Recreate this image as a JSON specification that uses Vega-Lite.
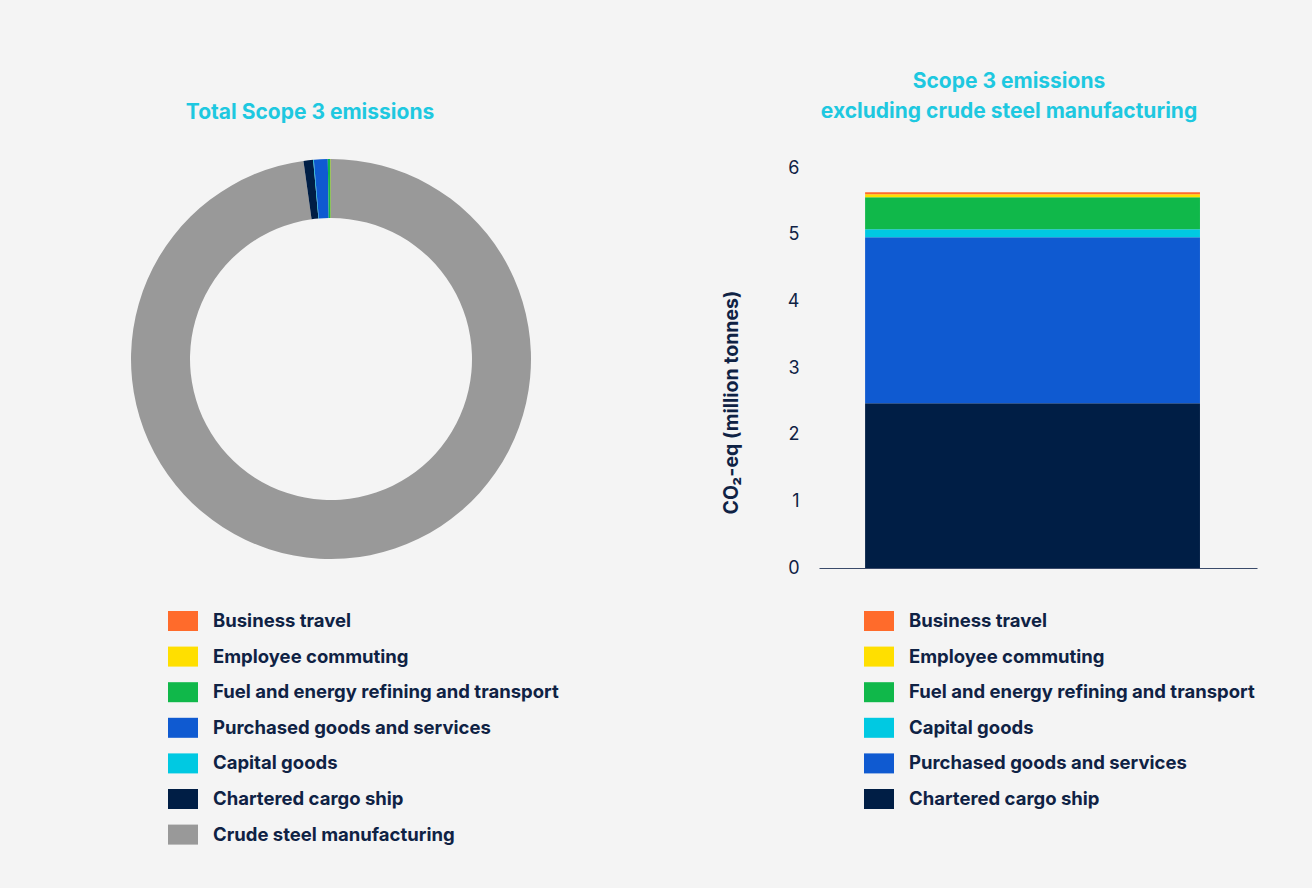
{
  "$schema": "https://vega.github.io/schema/vega-lite/v6.json",
  "background": "#f4f4f4",
  "padding": {"left": 0, "top": 71, "right": 55, "bottom": 69},
  "config": {
    "font": "Inter",
    "view": {"stroke": null},
    "legend": {
      "labelFont": "Inter",
      "labelFontSize": 18.5,
      "labelFontWeight": "bold",
      "labelColor": "#0f2244",
      "labelLimit": 0,
      "labelOffset": 15,
      "symbolType": "M-1,-0.667H1V0.667H-1Z",
      "symbolSize": 900,
      "symbolStrokeWidth": 0,
      "symbolOpacity": 1,
      "rowPadding": 9.6,
      "title": null
    }
  },
  "datasets": {
    "donut": [
      {"category": "Crude steel manufacturing", "value": 219, "rank": 1},
      {"category": "Chartered cargo ship", "value": 1.74, "rank": 2},
      {"category": "Capital goods", "value": 0.12, "rank": 3},
      {"category": "Purchased goods and services", "value": 2.49, "rank": 4},
      {"category": "Fuel and energy refining and transport", "value": 0.5, "rank": 5},
      {"category": "Employee commuting", "value": 0.045, "rank": 6},
      {"category": "Business travel", "value": 0.03, "rank": 7}
    ],
    "bar": [
      {"group": "Excluding crude steel", "category": "Chartered cargo ship", "value": 2.47, "rank": 1},
      {"group": "Excluding crude steel", "category": "Purchased goods and services", "value": 2.49, "rank": 2},
      {"group": "Excluding crude steel", "category": "Capital goods", "value": 0.12, "rank": 3},
      {"group": "Excluding crude steel", "category": "Fuel and energy refining and transport", "value": 0.48, "rank": 4},
      {"group": "Excluding crude steel", "category": "Employee commuting", "value": 0.045, "rank": 5},
      {"group": "Excluding crude steel", "category": "Business travel", "value": 0.03, "rank": 6}
    ]
  },
  "hconcat": [
    {
      "width": 662,
      "height": 382,
      "data": {"name": "donut"},
      "title": {"text": "Total Scope 3 emissions", "color": "#1ec8e0", "fontSize": 21, "fontWeight": "bold", "font": "Inter", "anchor": "middle", "offset": 36, "dx": -21},
      "mark": {"type": "arc", "innerRadius": 141, "outerRadius": 200},
      "encoding": {
        "theta": {"field": "value", "type": "quantitative", "stack": true},
        "order": {"field": "rank", "type": "quantitative"},
        "color": {
          "field": "category",
          "type": "nominal",
          "scale": {
            "domain": ["Business travel", "Employee commuting", "Fuel and energy refining and transport", "Purchased goods and services", "Capital goods", "Chartered cargo ship", "Crude steel manufacturing"],
            "range": ["#ff6b2b", "#ffdf00", "#10b84a", "#0f5ad1", "#00c9e2", "#001e45", "#999999"]
          },
          "legend": {"orient": "none", "legendX": 168, "legendY": 438}
        }
      }
    },
    {
      "width": 438,
      "height": 400,
      "data": {"name": "bar"},
      "title": {"text": ["Scope 3 emissions", "excluding crude steel manufacturing"], "color": "#1ec8e0", "fontSize": 21, "fontWeight": "bold", "font": "Inter", "anchor": "middle", "offset": 37, "dx": -29, "lineHeight": 30},
      "mark": {"type": "bar"},
      "encoding": {
        "x": {
          "field": "group",
          "type": "nominal",
          "scale": {"paddingInner": 0, "paddingOuter": 0.154, "align": 0.447},
          "axis": {"labels": false, "ticks": false, "title": null, "domainColor": "#3a4a6a", "domainWidth": 1}
        },
        "y": {
          "field": "value",
          "type": "quantitative",
          "stack": true,
          "scale": {"domain": [0, 6]},
          "axis": {
            "values": [0, 1, 2, 3, 4, 5, 6],
            "grid": false,
            "domain": false,
            "ticks": false,
            "labelFont": "Inter",
            "labelFontSize": 18,
            "labelColor": "#0f2244",
            "labelPadding": 20,
            "title": "CO₂-eq (million tonnes)",
            "titleFont": "Inter",
            "titleFontSize": 19.5,
            "titleFontWeight": "bold",
            "titleColor": "#0f2244",
            "titlePadding": 46,
            "titleY": 234
          }
        },
        "order": {"field": "rank", "type": "quantitative"},
        "color": {
          "field": "category",
          "type": "nominal",
          "scale": {
            "domain": ["Business travel", "Employee commuting", "Fuel and energy refining and transport", "Capital goods", "Purchased goods and services", "Chartered cargo ship"],
            "range": ["#ff6b2b", "#ffdf00", "#10b84a", "#00c9e2", "#0f5ad1", "#001e45"]
          },
          "legend": {"orient": "none", "legendX": 45, "legendY": 438}
        }
      }
    }
  ],
  "spacing": 59,
  "resolve": {"scale": {"color": "independent"}, "legend": {"color": "independent"}}
}
